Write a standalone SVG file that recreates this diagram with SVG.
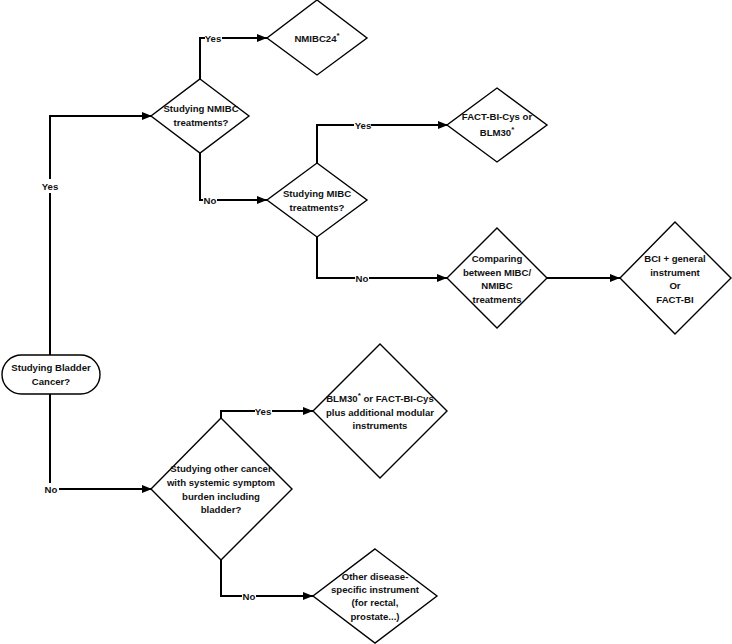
<svg xmlns="http://www.w3.org/2000/svg" width="732" height="644" viewBox="0 0 732 644">
<defs>
<marker id="arr" viewBox="0 0 10 8" refX="10" refY="4" markerWidth="10" markerHeight="8" markerUnits="userSpaceOnUse" orient="auto">
<path d="M0,0 L10,4 L0,8 Z" fill="#000"/>
</marker>
<style>
.shape{fill:#fff;stroke:#000;stroke-width:1.4}
.conn{fill:none;stroke:#000;stroke-width:2}
.t{font-family:"Liberation Sans",Arial,sans-serif;font-size:9.6px;font-weight:bold;text-anchor:middle;fill:#111}
.lbl{font-family:"Liberation Sans",Arial,sans-serif;font-size:9.6px;font-weight:bold;text-anchor:middle;fill:#111}
.sup{font-size:8px}
.bg{fill:#fff}
</style>
</defs>
<rect width="732" height="644" fill="#fff"/>
<g id="connectors">
<path class="conn" d="M50,355 V116 H152" marker-end="url(#arr)"/>
<path class="conn" d="M50,394 V489 H152" marker-end="url(#arr)"/>
<path class="conn" d="M200,79 V38 H267" marker-end="url(#arr)"/>
<path class="conn" d="M200,153 V200 H267" marker-end="url(#arr)"/>
<path class="conn" d="M317,163 V125 H448" marker-end="url(#arr)"/>
<path class="conn" d="M317,237 V278 H447" marker-end="url(#arr)"/>
<path class="conn" d="M547,278 H620" marker-end="url(#arr)"/>
<path class="conn" d="M221,418 V411 H313" marker-end="url(#arr)"/>
<path class="conn" d="M221,560 V596 H313" marker-end="url(#arr)"/>
<rect class="bg" x="42" y="179" width="17" height="14"/>
<text class="lbl" x="50" y="190">Yes</text>
<rect class="bg" x="205" y="32" width="17" height="12"/>
<text class="lbl" x="213" y="42">Yes</text>
<rect class="bg" x="203" y="194" width="14" height="12"/>
<text class="lbl" x="210" y="204">No</text>
<rect class="bg" x="354" y="119" width="17" height="12"/>
<text class="lbl" x="363" y="129">Yes</text>
<rect class="bg" x="355" y="272" width="14" height="12"/>
<text class="lbl" x="362" y="282">No</text>
<rect class="bg" x="44" y="483" width="15" height="12"/>
<text class="lbl" x="51" y="493">No</text>
<rect class="bg" x="255" y="405" width="17" height="12"/>
<text class="lbl" x="263" y="415">Yes</text>
<rect class="bg" x="242" y="590" width="14" height="12"/>
<text class="lbl" x="249" y="600">No</text>
</g>
<g id="start">
<rect class="shape" x="2" y="355" width="98" height="39" rx="19.5"/>
<text class="t" x="51" y="371">Studying Bladder</text>
<text class="t" x="51" y="385">Cancer?</text>
</g>
<g id="q-nmibc">
<path class="shape" d="M200,79 L249,116 L200,153 L151,116 Z"/>
<text class="t" x="201" y="112">Studying NMIBC</text>
<text class="t" x="201" y="126">treatments?</text>
</g>
<g id="nmibc24">
<path class="shape" d="M317,0 L367,38 L317,75 L267,38 Z"/>
<text class="t" x="317" y="42"><tspan>NMIBC24</tspan><tspan class="sup" dy="-4">*</tspan></text>
</g>
<g id="q-mibc">
<path class="shape" d="M317,163 L367,200 L317,237 L267,200 Z"/>
<text class="t" x="317" y="197">Studying MIBC</text>
<text class="t" x="317" y="211">treatments?</text>
</g>
<g id="fact-cys">
<path class="shape" d="M497,88 L547,125 L497,162 L447,125 Z"/>
<text class="t" x="497" y="120">FACT-BI-Cys or</text>
<text class="t" x="497" y="136"><tspan>BLM30</tspan><tspan class="sup" dy="-4">*</tspan></text>
</g>
<g id="comparing">
<path class="shape" d="M497,228 L547,278 L497,328 L447,278 Z"/>
<text class="t" x="497" y="262">Comparing</text>
<text class="t" x="497" y="276">between MIBC/</text>
<text class="t" x="497" y="289">NMIBC</text>
<text class="t" x="497" y="303">treatments</text>
</g>
<g id="bci">
<path class="shape" d="M675,222 L731,278 L675,334 L620,278 Z"/>
<text class="t" x="675" y="262">BCI + general</text>
<text class="t" x="675" y="276">instrument</text>
<text class="t" x="675" y="289">Or</text>
<text class="t" x="675" y="303">FACT-BI</text>
</g>
<g id="q-other">
<path class="shape" d="M221,418 L292,489 L221,560 L151,489 Z"/>
<text class="t" x="221" y="472">Studying other cancer</text>
<text class="t" x="221" y="486">with systemic symptom</text>
<text class="t" x="221" y="500">burden including</text>
<text class="t" x="221" y="513">bladder?</text>
</g>
<g id="blm30">
<path class="shape" d="M380,344 L447,411 L380,478 L313,411 Z"/>
<text class="t" x="380" y="402"><tspan>BLM30</tspan><tspan class="sup" dy="-4">*</tspan><tspan dy="4"> or FACT-BI-Cys</tspan></text>
<text class="t" x="380" y="416">plus additional modular</text>
<text class="t" x="380" y="429">instruments</text>
</g>
<g id="other-disease">
<path class="shape" d="M375,549 L437,596 L375,643 L313,596 Z"/>
<text class="t" x="375" y="580">Other disease-</text>
<text class="t" x="375" y="593">specific instrument</text>
<text class="t" x="375" y="606">(for rectal,</text>
<text class="t" x="375" y="620">prostate...)</text>
</g>
</svg>
